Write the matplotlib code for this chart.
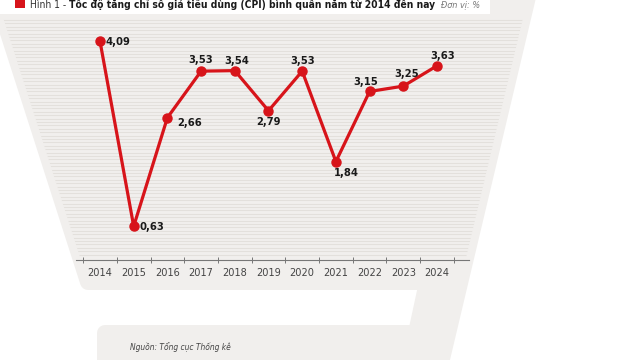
import matplotlib.pyplot as plt
import numpy as np
from matplotlib import font_manager
from matplotlib.patches import Polygon, Rectangle

# Du lieu: CPI binh quan nam (%)
years = [2014, 2015, 2016, 2017, 2018, 2019, 2020, 2021, 2022, 2023, 2024]
cpi = [4.09, 0.63, 2.66, 3.53, 3.54, 2.79, 3.53, 1.84, 3.15, 3.25, 3.63]
cpi_labels = ['4,09', '0,63', '2,66', '3,53', '3,54', '2,79', '3,53', '1,84', '3,15', '3,25', '3,63']

title_prefix = 'Hình 1 - '
title_main = 'Tốc độ tăng chỉ số giá tiêu dùng (CPI) bình quân năm từ 2014 đến nay'
unit_text = 'Đơn vị: %'
source_text = 'Nguồn: Tổng cục Thống kê'

# vi tri nhan (px, truc y huong len)
label_offsets = [(6, -1), (6, -1), (10, -5), (0, 11), (2, 10), (0, -11),
                 (0, 10), (10, -11), (-4, 9), (3, 12), (6, 10)]
label_ha = ['left', 'left', 'left', 'center', 'center', 'center',
            'center', 'center', 'center', 'center', 'center']

names = {f.name for f in font_manager.fontManager.ttflist}
if 'Liberation Sans Narrow' in names:
    narrow = dict(family=['Liberation Sans Narrow', 'DejaVu Sans'])
else:
    narrow = dict(family=['DejaVu Sans'], stretch='condensed')

RED = '#d7141a'
BG = '#f1efed'
STRIPE = '#e3e0dc'

fig = plt.figure(figsize=(6.4, 3.6), dpi=100)

# nen (toa do pixel)
bg = fig.add_axes([0, 0, 1, 1])
bg.set_xlim(0, 640)
bg.set_ylim(360, 0)
bg.axis('off')

shape = [(-9, -20), (532, -20), (437, 380), (105, 380), (105, 333),
         (416, 333), (427, 282), (88, 282)]
poly = Polygon(shape, closed=True, facecolor=BG, edgecolor=BG,
               linewidth=16 * 0.72, joinstyle='round')
bg.add_patch(poly)
clip = Polygon(shape, closed=True, facecolor='none', edgecolor='none')
bg.add_patch(clip)
ys = np.arange(20, 257, 3.4)
stripes = bg.hlines(ys, -20, 660, color=STRIPE, linewidth=0.8)
stripes.set_clip_path(clip)

bg.add_patch(Rectangle((-10, -10), 500, 24, facecolor='white', edgecolor='none'))
bg.add_patch(Rectangle((15, -3), 10, 11, facecolor=RED, edgecolor='none'))

t1 = bg.text(30, 7.5, title_prefix, fontsize=7.4, color='#333333', va='baseline', **narrow)
bg.annotate(title_main, xy=(1, 0), xycoords=t1, va='bottom', fontsize=7.4,
            fontweight='bold', color='#1a1a1a', **narrow)
bg.text(441, 7.5, unit_text, fontsize=6.5, style='italic', color='#777777',
        va='baseline', **narrow)
bg.text(130, 347, source_text, fontsize=6, style='italic', color='#444444',
        va='center', **narrow)

# bieu do
ax = fig.add_axes([76 / 640, 100 / 360, 393 / 640, 240.75 / 360])
ax.patch.set_alpha(0)
ax.plot(years, cpi, color=RED, linewidth=2.3, marker='o', markersize=6.5, zorder=3)
ax.set_xlim(2013.288, 2024.95)
ax.set_ylim(0, 4.5)

for sp in ['top', 'right', 'left']:
    ax.spines[sp].set_visible(False)
ax.spines['bottom'].set_color('#777777')
ax.spines['bottom'].set_linewidth(0.8)
ax.set_yticks([])
ax.set_xticks(years)
ax.set_xticklabels([str(y) for y in years], fontsize=7.8, color='#444444', **narrow)
ax.tick_params(axis='x', which='major', length=0, pad=6)
ax.set_xticks([y + 0.5 for y in [2013] + years], minor=True)
ax.tick_params(axis='x', which='minor', direction='inout', length=5, width=0.7, color='#777777')

for x, y, lab, off, ha in zip(years, cpi, cpi_labels, label_offsets, label_ha):
    ax.annotate(lab, xy=(x, y), xytext=(off[0] * 0.72, off[1] * 0.72),
                textcoords='offset points', ha=ha, va='center', fontsize=8,
                fontweight='bold', color='#1a1a1a', **narrow)

fig.savefig('out.png', dpi=100)
